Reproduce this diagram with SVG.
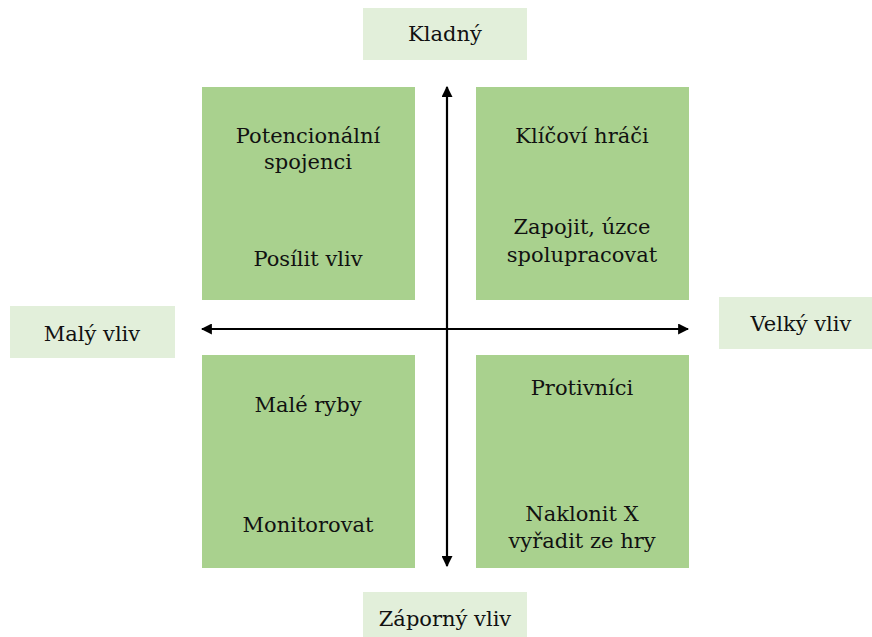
<svg xmlns="http://www.w3.org/2000/svg" width="872" height="637" viewBox="0 0 872 637">
  <defs>
    <marker id="arrow" viewBox="0 0 10 10" refX="9" refY="5" markerWidth="5" markerHeight="5" orient="auto-start-reverse" markerUnits="strokeWidth">
      <path d="M0,0 L10,5 L0,10 z" fill="#000"/>
    </marker>
  </defs>
  <style>
    .quad { fill: #a9d18e; }
    .label { fill: #e2efda; }
    .axis { stroke: #000; stroke-width: 2.2; fill: none; }
  </style>
  <rect width="872" height="637" fill="#fff"/>

  <g font-family="DejaVu Serif, serif" font-size="21" fill="#111" text-anchor="middle">
  <g id="axis-label-top">
    <rect class="label" x="363" y="8" width="164" height="52"/>
    <text x="445" y="41">Kladný</text>
  </g>
  <g id="axis-label-left">
    <rect class="label" x="10" y="306" width="165" height="52"/>
    <text x="92" y="341">Malý vliv</text>
  </g>
  <g id="axis-label-right">
    <rect class="label" x="719" y="297" width="153" height="52"/>
    <text x="801" y="331">Velký vliv</text>
  </g>
  <g id="axis-label-bottom">
    <rect class="label" x="363" y="592" width="164" height="45"/>
    <text x="445" y="626">Záporný vliv</text>
  </g>

  <g id="quadrant-top-left">
    <rect class="quad" x="202" y="87" width="213" height="213"/>
    <text x="308" y="143">Potencionální</text>
    <text x="308" y="169">spojenci</text>
    <text x="308" y="266">Posílit vliv</text>
  </g>
  <g id="quadrant-top-right">
    <rect class="quad" x="476" y="87" width="213" height="213"/>
    <text x="582" y="143">Klíčoví hráči</text>
    <text x="582" y="234">Zapojit, úzce</text>
    <text x="582" y="262">spolupracovat</text>
  </g>
  <g id="quadrant-bottom-left">
    <rect class="quad" x="202" y="355" width="213" height="213"/>
    <text x="308" y="412">Malé ryby</text>
    <text x="308" y="532">Monitorovat</text>
  </g>
  <g id="quadrant-bottom-right">
    <rect class="quad" x="476" y="355" width="213" height="213"/>
    <text x="582" y="395">Protivníci</text>
    <text x="582" y="521">Naklonit X</text>
    <text x="582" y="548">vyřadit ze hry</text>
  </g>
  </g>

  <g id="connectors">
    <line class="axis" x1="202" y1="329" x2="688" y2="329" marker-start="url(#arrow)" marker-end="url(#arrow)"/>
    <line class="axis" x1="447" y1="87" x2="447" y2="566" marker-start="url(#arrow)" marker-end="url(#arrow)"/>
  </g>
</svg>
